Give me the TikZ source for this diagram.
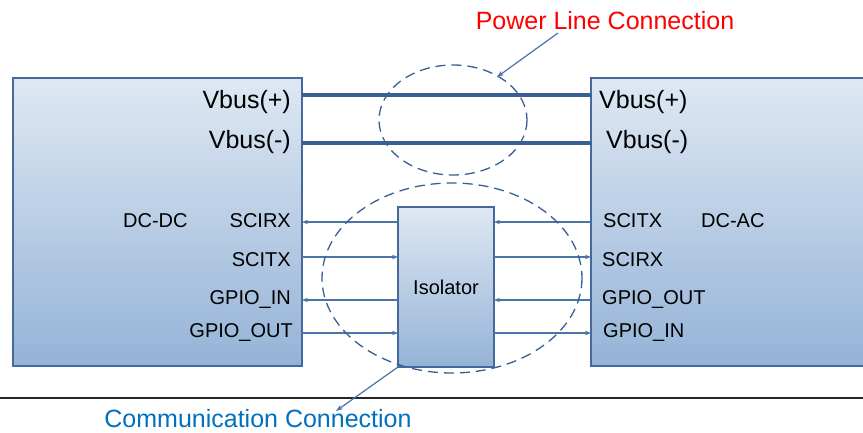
\documentclass[tikz,border=0pt]{standalone}
\usepackage{fontspec}
\setmainfont{Liberation Sans}
\usetikzlibrary{arrows.meta}
\definecolor{boxtop}{RGB}{222,232,243}
\definecolor{boxbot}{RGB}{149,179,215}
\definecolor{boxline}{RGB}{70,105,155}
\definecolor{bus}{RGB}{58,95,148}
\definecolor{sig}{RGB}{74,115,168}
\definecolor{commblue}{RGB}{0,112,192}
\tikzset{
  unitbox/.style={draw=boxline, line width=1.3bp, top color=boxtop, bottom color=boxbot,
    inner sep=0pt, outer sep=0pt, anchor=north west},
  busline/.style={draw=bus, line width=4.5bp},
  sigline/.style={draw=sig, line width=1.2bp},
  tipend/.style={-{Stealth[length=6bp,width=4.5bp]}},
  zone/.style={draw=bus, line width=1.3bp, dash pattern=on 10bp off 6bp},
  pinlbl/.style={font=\fontsize{20bp}{24bp}\selectfont, inner sep=0pt},
  buslbl/.style={font=\fontsize{25bp}{30bp}\selectfont, inner sep=0pt},
  callout/.style={font=\fontsize{25bp}{30bp}\selectfont, inner sep=0pt},
  pointer/.style={draw=sig, line width=1.2bp, -{Stealth[length=7bp,width=5bp]}}
}
\begin{document}
\begin{tikzpicture}[x=1bp,y=-1bp]
  \clip (0,0) rectangle (863,433);
  \fill[white] (0,0) rectangle (863,433);

  % converter blocks and isolator
  \node[unitbox, minimum width=289bp, minimum height=288bp] (dcdc) at (13,78) {};
  \node[unitbox, minimum width=300bp, minimum height=288bp] (dcac) at (591,78) {};
  \node[unitbox, minimum width=96bp, minimum height=160bp] (iso) at (398,207) {};
  \node[pinlbl] (isolbl) at (iso.center) {Isolator};

  % ground reference line
  \coordinate (gl) at (0,398);
  \coordinate (gr) at (863,398);
  \draw[line width=1.3bp, black!85] (gl) -- (gr);

  % power bus
  \coordinate (lp) at (302,95);  \coordinate (rp) at (591,95);
  \coordinate (lm) at (302,143); \coordinate (rm) at (591,143);
  \draw[busline] (lp) -- (rp);
  \draw[busline] (lm) -- (rm);

  % signal connection points
  \foreach \n/\y in {a/222,b/257,c/300,d/333}{
    \coordinate (L\n) at (302,\y);
    \coordinate (IL\n) at (398,\y);
    \coordinate (IR\n) at (494,\y);
    \coordinate (R\n) at (591,\y);
  }
  \draw[sigline, tipend] (ILa) -- (La);
  \draw[sigline, tipend] (Lb) -- (ILb);
  \draw[sigline, tipend] (ILc) -- (Lc);
  \draw[sigline, tipend] (Ld) -- (ILd);
  \draw[sigline, tipend] (Ra) -- (IRa);
  \draw[sigline, tipend] (IRb) -- (Rb);
  \draw[sigline, tipend] (Rc) -- (IRc);
  \draw[sigline, tipend] (IRd) -- (Rd);

  % connection zones
  \draw[zone] (453,120) ellipse [x radius=74, y radius=55];
  \draw[zone] (452,278) ellipse [x radius=130, y radius=95];

  % left block labels
  \node[buslbl, anchor=east] (lvp) at (291,102) {Vbus(+)};
  \node[buslbl, anchor=east] (lvm) at (291,142) {Vbus(-)};
  \node[pinlbl, anchor=west] (ldc) at (123,221) {DC-DC};
  \node[pinlbl, anchor=east] (l1) at (291,221) {SCIRX};
  \node[pinlbl, anchor=east] (l2) at (291,260) {SCITX};
  \node[pinlbl, anchor=east] (l3) at (291,300) {GPIO\_IN};
  \node[pinlbl, anchor=east] (l4) at (293,333) {GPIO\_OUT};

  % right block labels
  \node[buslbl, anchor=west] (rvp) at (599,102) {Vbus(+)};
  \node[buslbl, anchor=west] (rvm) at (606,142) {Vbus(-)};
  \node[pinlbl, anchor=west] (r1) at (603,221) {SCITX};
  \node[pinlbl, anchor=west] (rdc) at (701,221) {DC-AC};
  \node[pinlbl, anchor=west] (r2) at (602,260) {SCIRX};
  \node[pinlbl, anchor=west] (r3) at (602,300) {GPIO\_OUT};
  \node[pinlbl, anchor=west] (r4) at (603,333) {GPIO\_IN};

  % callouts
  \node[callout, text=red] (pwr) at (605,21) {Power Line Connection};
  \coordinate (pwrfrom) at (558,33);
  \coordinate (pwrto) at (497,77);
  \draw[pointer] (pwrfrom) -- (pwrto);

  \node[callout, text=commblue] (comm) at (258,419) {Communication Connection};
  \coordinate (commto) at (336,411);
  \draw[pointer] (iso.south west) -- (commto);
\end{tikzpicture}
\end{document}
